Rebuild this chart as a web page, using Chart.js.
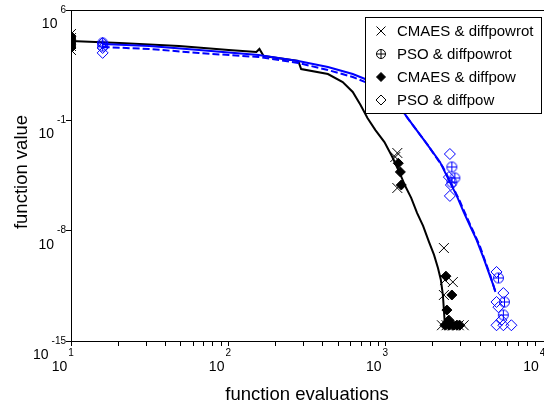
<!DOCTYPE html>
<html><head><meta charset="utf-8">
<script src="https://cdn.jsdelivr.net/npm/chart.js@4/dist/chart.umd.min.js"></script>
<style>html,body{margin:0;padding:0;background:#fff;}canvas{display:block;}</style>
</head><body>
<canvas id="c" width="544" height="408"></canvas>
<script>
// ---- series names / ticks ----
const seriesNames = ['CMAES & diffpowrot', 'PSO & diffpowrot', 'CMAES & diffpow', 'PSO & diffpow'];
const xTickExponents = [1, 2, 3, 4];
const yTickExponents = [6, -1, -8, -15];
const xTickValues = [10,20,30,40,50,60,70,80,90,100,200,300,400,500,600,700,800,900,1000,2000,3000,4000,5000,6000,7000,8000,9000];
const yTickValues = [1e6, 1e-1, 1e-8, 1e-15];

// ---- lines ----
const cmaesLineX = [10,20.4,48.7,100.7,151,158,168,279,291,431,535,620,695,769,864,986,1107,1225,1337,1459,1592,1737,1896,2039,2160,2254,2322,2356,2392];
const cmaesLineY = [1.08e4,8.1e3,5.2e3,2.9e3,2.2e3,3.4e3,1.2e3,580,180,87,27,6.3,0.94,0.14,0.024,4.2e-3,4.7e-4,5.3e-5,6.8e-6,1.2e-6,1.3e-7,2.0e-8,1.9e-9,2.9e-10,4.3e-11,7.4e-12,8.3e-13,9.2e-14,1.0e-14];

const psoSolidX = [15.9,31.5,65.2,156,279,431,620,828,1031,1245,1480,1762,2223,2535,2846,3149,3436,3802,4215,4530,4877,5012];
const psoSolidY = [6970,5200,2900,1400,580,242,87,27,6.3,0.61,0.058,5.6e-3,2.3e-4,1.6e-5,1.6e-6,1.5e-7,2.3e-8,2.6e-9,1.8e-10,2.4e-11,3.1e-12,1.3e-12];

const psoDashedX = [15.9,31.5,65.2,156,279,431,620,828,1031,1280,1524,1842,2322,2647,2972,3289,3589,3972,4335,4665,5012];
const psoDashedY = [4500,3360,1870,1040,434,156,56,17.5,4.05,0.39,0.038,3.1e-3,1.1e-4,7.9e-6,7.6e-7,7.4e-8,1.1e-8,1.2e-9,1.0e-10,1.3e-11,1.3e-12];

// ---- markers ----
const cmaesRotMarkX = [10,10,10,10,10,1156,1191,1191,2356,2392,2686,2356,2290,2450,2686,2929,3149];
const cmaesRotMarkY = [3.0e4,1.66e4,9.3e3,5.2e3,2.9e3,4.7e-4,8.5e-4,5.1e-6,7.9e-10,7.4e-12,5.5e-12,8.3e-13,1e-14,1e-14,1e-14,1e-14,1e-14];

const psoRotMarkX = [15.9,15.9,2647,2765,2647,5240,5720,5630];
const psoRotMarkY = [8.1e3,5.2e3,1.1e-4,2.2e-5,1.2e-5,1.0e-11,3.0e-13,4.5e-14];

const cmaesMarkX = [10,10,10,10,1208,1245,1262,2427,2647,2462,2535,2392,2535,2686,2846,2972];
const cmaesMarkY = [2.2e4,1.26e4,6.9e3,3.9e3,1.9e-4,5.3e-5,7.9e-6,1.3e-11,8.3e-13,9.2e-14,2.1e-14,1e-14,1e-14,1e-14,1e-14,1e-14];

const psoMarkX = [15.9,15.9,15.9,2572,2535,2609,2572,5093,5630,5093,5240,5470,5093,5630,6330];
const psoMarkY = [8.1e3,3.9e3,1.9e3,7.3e-4,2.5e-5,7.9e-6,1.6e-6,2.4e-11,1.1e-12,3.0e-13,1.4e-13,2.1e-14,1e-14,1e-14,1e-14];

const BLUE = '#0000ff';
const FONT = '"Liberation Sans", Arial, Helvetica, sans-serif';
const pts = (xs, ys) => xs.map((v, i) => ({x: v, y: ys[i]}));

function circlePlus(color, r) {
  const c = document.createElement('canvas');
  const s = Math.ceil(r * 2 + 3);
  c.width = s; c.height = s;
  const g = c.getContext('2d');
  g.strokeStyle = color; g.lineWidth = 1;
  const m = s / 2;
  g.beginPath(); g.arc(m, m, r, 0, Math.PI * 2); g.stroke();
  g.beginPath(); g.moveTo(m - r, m); g.lineTo(m + r, m); g.moveTo(m, m - r); g.lineTo(m, m + r); g.stroke();
  return c;
}

const decor = {
  id: 'decor',
  afterDraw(chart) {
    const ctx = chart.ctx, xs = chart.scales.x, ys = chart.scales.y, a = chart.chartArea;
    ctx.save();
    ctx.strokeStyle = '#000'; ctx.lineWidth = 1;
    // top frame line and continuation of the bottom axis to the canvas edge
    ctx.beginPath();
    ctx.moveTo(a.left, Math.round(a.top) + 0.5); ctx.lineTo(chart.width, Math.round(a.top) + 0.5);
    ctx.moveTo(a.right - 1, Math.round(a.bottom) + 0.5); ctx.lineTo(chart.width, Math.round(a.bottom) + 0.5);
    ctx.stroke();
    ctx.fillStyle = '#000'; ctx.textBaseline = 'middle';
    // y tick labels
    for (const e of yTickExponents) {
      const py = ys.getPixelForValue(Math.pow(10, e));
      const es = e < 0 ? '-' + (-e) : String(e);
      ctx.font = '10px ' + FONT;
      const ew = ctx.measureText(es).width;
      ctx.textAlign = 'right';
      ctx.fillText(es, 66, py);
      ctx.font = '14px ' + FONT;
      ctx.fillText('10', 66 - ew - 3, py + 14);
    }
    // x tick labels
    for (const e of xTickExponents) {
      const px = xs.getPixelForValue(Math.pow(10, e));
      const es = String(e);
      ctx.font = '10px ' + FONT;
      const ew = ctx.measureText(es).width;
      ctx.textAlign = 'center';
      ctx.fillText(es, px, 353);
      ctx.font = '14px ' + FONT;
      ctx.textAlign = 'right';
      ctx.fillText('10', px - ew / 2 - 1, 367);
    }
    // axis titles
    ctx.font = '18.5px ' + FONT;
    ctx.textAlign = 'center';
    ctx.fillText('function evaluations', 307, 395);
    ctx.save();
    ctx.translate(22, 172);
    ctx.rotate(-Math.PI / 2);
    ctx.fillText('function value', 0, 0);
    ctx.restore();
    // legend
    const L = 365, T = 17, W = 176, H = 96;
    ctx.fillStyle = '#fff';
    ctx.fillRect(L, T, W, H);
    ctx.strokeStyle = '#000';
    ctx.strokeRect(L + 0.5, T + 0.5, W, H);
    const rowsY = [31, 54, 77, 100];
    const mx = 381;
    ctx.lineWidth = 1;
    let y0 = rowsY[0];
    ctx.beginPath(); ctx.moveTo(mx - 4.5, y0 - 4.5); ctx.lineTo(mx + 4.5, y0 + 4.5); ctx.moveTo(mx - 4.5, y0 + 4.5); ctx.lineTo(mx + 4.5, y0 - 4.5); ctx.stroke();
    y0 = rowsY[1];
    ctx.beginPath(); ctx.arc(mx, y0, 4.5, 0, Math.PI * 2); ctx.stroke();
    ctx.beginPath(); ctx.moveTo(mx - 4.5, y0); ctx.lineTo(mx + 4.5, y0); ctx.moveTo(mx, y0 - 4.5); ctx.lineTo(mx, y0 + 4.5); ctx.stroke();
    y0 = rowsY[2];
    ctx.fillStyle = '#000';
    ctx.beginPath(); ctx.moveTo(mx - 4.5, y0); ctx.lineTo(mx, y0 - 4.5); ctx.lineTo(mx + 4.5, y0); ctx.lineTo(mx, y0 + 4.5); ctx.closePath(); ctx.fill(); ctx.stroke();
    y0 = rowsY[3];
    ctx.beginPath(); ctx.moveTo(mx - 5, y0); ctx.lineTo(mx, y0 - 5); ctx.lineTo(mx + 5, y0); ctx.lineTo(mx, y0 + 5); ctx.closePath(); ctx.stroke();
    ctx.font = '15px ' + FONT;
    ctx.textAlign = 'left';
    ctx.fillStyle = '#000';
    seriesNames.forEach((n, i) => ctx.fillText(n, 397, rowsY[i] + 1));
    ctx.restore();
  }
};

new Chart(document.getElementById('c'), {
  type: 'line',
  data: {
    datasets: [
      {label: seriesNames[0], type: 'scatter', data: pts(cmaesRotMarkX, cmaesRotMarkY), pointStyle: 'crossRot', pointRadius: 7, borderColor: '#000', backgroundColor: '#000', borderWidth: 1, showLine: false, clip: 0, order: 0},
      {label: seriesNames[2], type: 'scatter', data: pts(cmaesMarkX, cmaesMarkY), pointStyle: 'rectRot', pointRadius: 5, borderColor: '#000', backgroundColor: '#000', borderWidth: 1, showLine: false, clip: 0, order: 1},
      {label: seriesNames[1], type: 'scatter', data: pts(psoRotMarkX, psoRotMarkY), pointStyle: circlePlus(BLUE, 5), borderColor: BLUE, backgroundColor: 'rgba(0,0,0,0)', showLine: false, clip: 0, order: 2},
      {label: seriesNames[3], type: 'scatter', data: pts(psoMarkX, psoMarkY), pointStyle: 'rectRot', pointRadius: 5.5, borderColor: BLUE, backgroundColor: 'rgba(0,0,0,0)', borderWidth: 1, showLine: false, clip: 0, order: 3},
      {label: 'pso solid', data: pts(psoSolidX, psoSolidY), borderColor: BLUE, borderWidth: 2, pointRadius: 0, fill: false, tension: 0, order: 4},
      {label: 'pso dashed', data: pts(psoDashedX, psoDashedY), borderColor: BLUE, borderWidth: 2, borderDash: [7, 3], pointRadius: 0, fill: false, tension: 0, order: 5},
      {label: 'cmaes', data: pts(cmaesLineX, cmaesLineY), borderColor: '#000', borderWidth: 2, pointRadius: 0, fill: false, tension: 0, order: 6}
    ]
  },
  options: {
    responsive: false,
    animation: false,
    devicePixelRatio: 1,
    events: [],
    layout: {padding: {top: 10, right: 0, left: 0, bottom: 0}},
    plugins: {legend: {display: false}, tooltip: {enabled: false}},
    scales: {
      x: {
        type: 'logarithmic', position: 'bottom', min: 10, max: 9080,
        afterBuildTicks: s => { s.ticks = xTickValues.map(v => ({value: v})); },
        afterFit: s => { s.height = 67; },
        ticks: {display: false, autoSkip: false},
        grid: {display: true, drawOnChartArea: false, drawTicks: true, tickLength: 5, color: '#000', tickColor: '#000'},
        border: {display: true, color: '#000', width: 1}
      },
      y: {
        type: 'logarithmic', position: 'left', min: 1e-15, max: 1e6,
        afterBuildTicks: s => { s.ticks = yTickValues.map(v => ({value: v})); },
        afterFit: s => { s.width = 71; },
        ticks: {display: false, autoSkip: false},
        grid: {display: true, drawOnChartArea: false, drawTicks: true, tickLength: 5, color: '#000', tickColor: '#000'},
        border: {display: true, color: '#000', width: 1}
      }
    }
  },
  plugins: [decor]
});
</script>
</body></html>
